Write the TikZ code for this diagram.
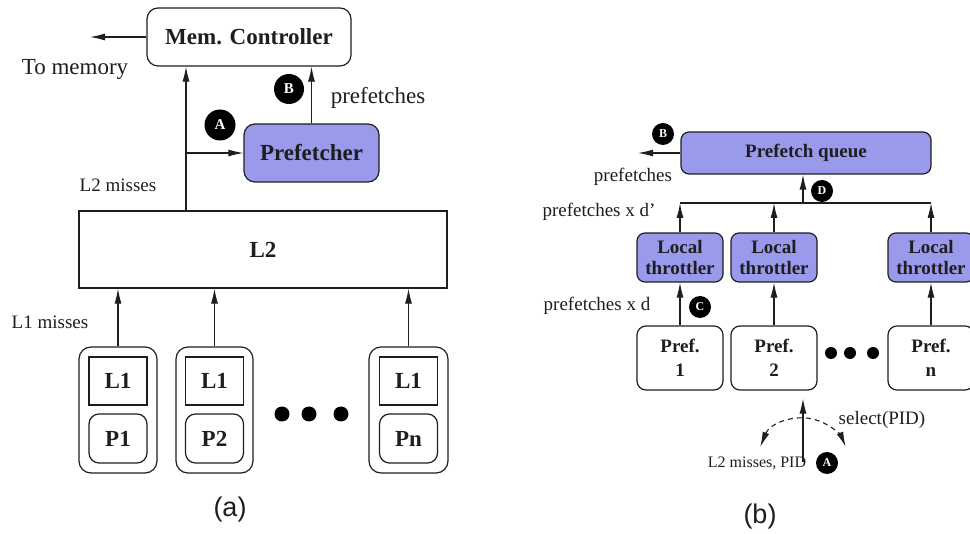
\documentclass[tikz,border=0pt]{standalone}
\usepackage{fontspec}
\setmainfont{Liberation Serif}
\newfontfamily\capfont{Liberation Sans}
\usetikzlibrary{arrows.meta}

\definecolor{lav}{RGB}{154,154,236}
\definecolor{ink}{RGB}{30,30,30}

\tikzset{
  tip/.tip={Latex[length=15pt,width=7pt]},
  arr/.style={-tip},
  box/.style={draw=ink, line width=1.2pt, inner sep=0pt, align=center},
  rbox/.style={box, rounded corners=11pt},
  big/.style={font=\fontsize{23}{26}\selectfont\bfseries},
  mid/.style={font=\fontsize{19}{21}\selectfont\bfseries},
  txt/.style={font=\fontsize{23}{26}\selectfont, inner sep=0pt},
  stxt/.style={font=\fontsize{19}{21}\selectfont, inner sep=0pt},
  badge/.style={circle, fill=black, draw=none, text=white, inner sep=0pt,
    minimum size=#1, font=\fontsize{12}{12}\selectfont\bfseries},
  captxt/.style={font=\capfont\fontsize{27}{30}\selectfont, inner sep=0pt},
}

\begin{document}
\begin{tikzpicture}[x=1pt, y=-1pt, color=ink, line width=1.1pt]
\useasboundingbox (0,0) rectangle (970,534);
\clip (0,0) rectangle (970,534);

% ---------------- (a) shared L2 with one prefetcher ----------------
\node[rbox, big, minimum width=204, minimum height=58] (mc) at (249,37) {Mem. Controller};
\node[rbox, big, fill=lav, minimum width=135, minimum height=58] (pf) at (311.5,153) {Prefetcher};
\node[box, big, minimum width=368, minimum height=77] (l2) at (263,249.5) {L2};

\coordinate (tomem) at (90,37);
\coordinate (tap) at (186,153);
\draw[arr] (mc.west) -- (tomem);
\draw[arr] (tap |- l2.north) -- (tap |- mc.south);
\draw[arr] (tap) -- (pf.west);
\draw[arr] (pf.north) -- (pf.north |- mc.south);

\node[txt] (tomemlbl) at (75,69) {To memory};
\node[txt] (pflbl) at (378,98) {prefetches};
\node[stxt] (l2mlbl) at (118,185) {L2 misses};
\node[stxt] (l1mlbl) at (50,322) {L1 misses};

\node[badge=31, font=\fontsize{15}{15}\selectfont\bfseries] (ba) at (220,125) {A};
\node[badge=30, font=\fontsize{15}{15}\selectfont\bfseries] (bb) at (289,89) {B};

% processors with private L1 caches
\foreach \n/\x/\w/\lab in {p1/118/78/P1, p2/214.5/77/P2, pn/408.5/79/Pn}{
  \node[rbox, rounded corners=12pt, minimum width=\w, minimum height=126] (\n o) at (\x,410) {};
  \node[box, big, minimum width=58, minimum height=48] (\n c) at (\x,381) {L1};
  \node[rbox, rounded corners=10pt, big, minimum width=58, minimum height=49] (\n p) at (\x,438.5) {\lab};
  \draw[arr] (\n o.north) -- (\n o.north |- l2.south);
}
\foreach \x [count=\i] in {282,309,341}
  \node[circle, fill=black, draw=none, minimum size=15, inner sep=0pt] (dota\i) at (\x,414) {};

\node[captxt] (capa) at (230,510) {(a)};

% ---------------- (b) per-process prefetchers with throttling ----------------
\node[rbox, rounded corners=8pt, mid, fill=lav, minimum width=250, minimum height=42] (pq) at (806,153) {Prefetch queue};
\coordinate (pqout) at (638,153);
\draw[arr] (pq.west) -- (pqout);
\node[badge=22] (qb) at (663,134) {B};
\node[stxt] (qpflbl) at (633,177) {prefetches};

\coordinate (bar) at (803,203);
\foreach \n/\x/\lab in {1/680/1, 2/774/2, 3/931/n}{
  \node[rbox, rounded corners=8pt, mid, fill=lav, minimum width=86, minimum height=49,
        font=\fontsize{19}{21}\selectfont\bfseries] (t\n) at (\x,257.5) {Local\\throttler};
  \node[rbox, rounded corners=9pt, mid, minimum width=86, minimum height=64,
        font=\fontsize{19}{24}\selectfont\bfseries] (f\n) at (\x,358) {Pref.\\\lab};
  \draw[arr] (t\n.north) -- (t\n.north |- bar);
  \draw[arr] (f\n.north) -- (t\n.south);
}
\draw (t1.north |- bar) -- (t3.north |- bar);
\draw[arr] (bar) -- (bar |- pq.south);
\node[badge=22] (qd) at (822,191) {D};
\node[stxt] (xdp) at (599,212) {prefetches x d’};
\node[stxt] (xd) at (597,306) {prefetches x d};
\node[badge=22] (qc) at (700,307) {C};

\foreach \x [count=\i] in {831,850,873}
  \node[circle, fill=black, draw=none, minimum size=12, inner sep=0pt] (dotb\i) at (\x,353) {};

% incoming misses and selection by process id
\coordinate (sel) at (803,462);
\draw[arr, shorten >=8pt] (sel) -- (sel |- f2.south);
\coordinate (arcl) at (760.3,446.8);
\draw[dashed, dash pattern=on 5pt off 4pt, tip-tip]
  (arcl) arc[start angle=202, end angle=338, radius=46];
\node[stxt] (sellbl) at (882,420) {select(PID)};
\node[font=\fontsize{16}{18}\selectfont, inner sep=0pt] (misslbl) at (757,463) {L2 misses, PID};
\node[badge=22] (qa) at (827,463) {A};

\node[captxt] (capb) at (760,517) {(b)};
\end{tikzpicture}
\end{document}
